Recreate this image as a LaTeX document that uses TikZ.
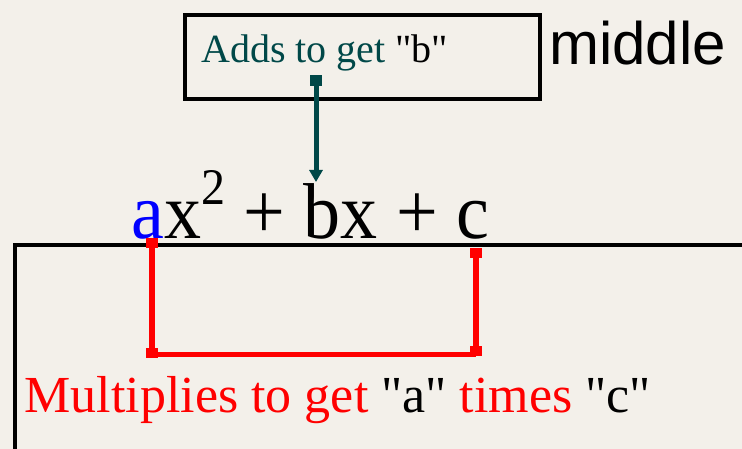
\documentclass[tikz,border=0pt]{standalone}
\usepackage{fontspec}
\newfontfamily\timesfont{Liberation Serif}
\newfontfamily\arialfont{Liberation Sans}
\usetikzlibrary{arrows.meta,positioning}
\usepackage{xcolor}
\definecolor{paperbg}  {RGB}{243,240,234}
\definecolor{addteal}  {RGB}{  0, 72, 72}
\definecolor{multred}  {RGB}{255,  0,  0}
\definecolor{coefblue} {RGB}{  0,  0,255}

\begin{document}
\begin{tikzpicture}[
    x=1pt, y=-1pt,
    frame/.style={draw=black, line width=4pt},
    txt/.style={inner sep=0pt, anchor=base west},
    addarrow/.style={draw=addteal, line width=5pt, {Square[length=11pt,width=12pt]}-{Triangle[length=12pt,width=13pt]}},
    multline/.style={draw=multred, line width=5.5pt},
    multend/.style={multline, {Square[length=10pt,width=12pt]}-{Square[length=10pt,width=12pt]}}
]
    \fill[paperbg] (0,0) rectangle (742,449);
    \useasboundingbox (0,0) rectangle (742,449);

    % top box and its label
    \draw[frame] (184.5,15) rectangle (540,99.5);
    \node[txt, text=addteal, font=\timesfont\fontsize{40}{44}\selectfont] (addtext) at (201,63) {Adds to get \textcolor{black}{"b"}};
    \node[txt, font=\arialfont\fontsize{60}{66}\selectfont] (middle) at (549,65) {middle};

    % the trinomial
    \node[txt, font=\timesfont\fontsize{74}{80}\selectfont] (poly) at (131,239)
        {\scalebox{1}[1.07]{\textcolor{coefblue}{a}x\raisebox{32pt}{\fontsize{48}{52}\selectfont 2} + bx + c}};

    % lower box
    \draw[frame] (750,245.5) -| (15,455);

    \coordinate (addfoot) at (316,75);
    \coordinate (btop) at (316,182);
    \draw[addarrow] (addfoot) -- (btop);

    \coordinate (aend) at (152,238);
    \coordinate (aknee) at (152,358);
    \coordinate (cend) at (476,248);
    \coordinate (cknee) at (476,356);
    \draw[multend] (aend) -- (aknee);
    \draw[multend] (cend) -- (cknee);
    \draw[multline] (152,354.5) -- (476,354.5);

    \node[txt, text=multred, font=\timesfont\fontsize{52}{58}\selectfont] (multtext) at (24.5,412) {Multiplies to get \textcolor{black}{"a"} times \textcolor{black}{"c"}};
\end{tikzpicture}
\end{document}
